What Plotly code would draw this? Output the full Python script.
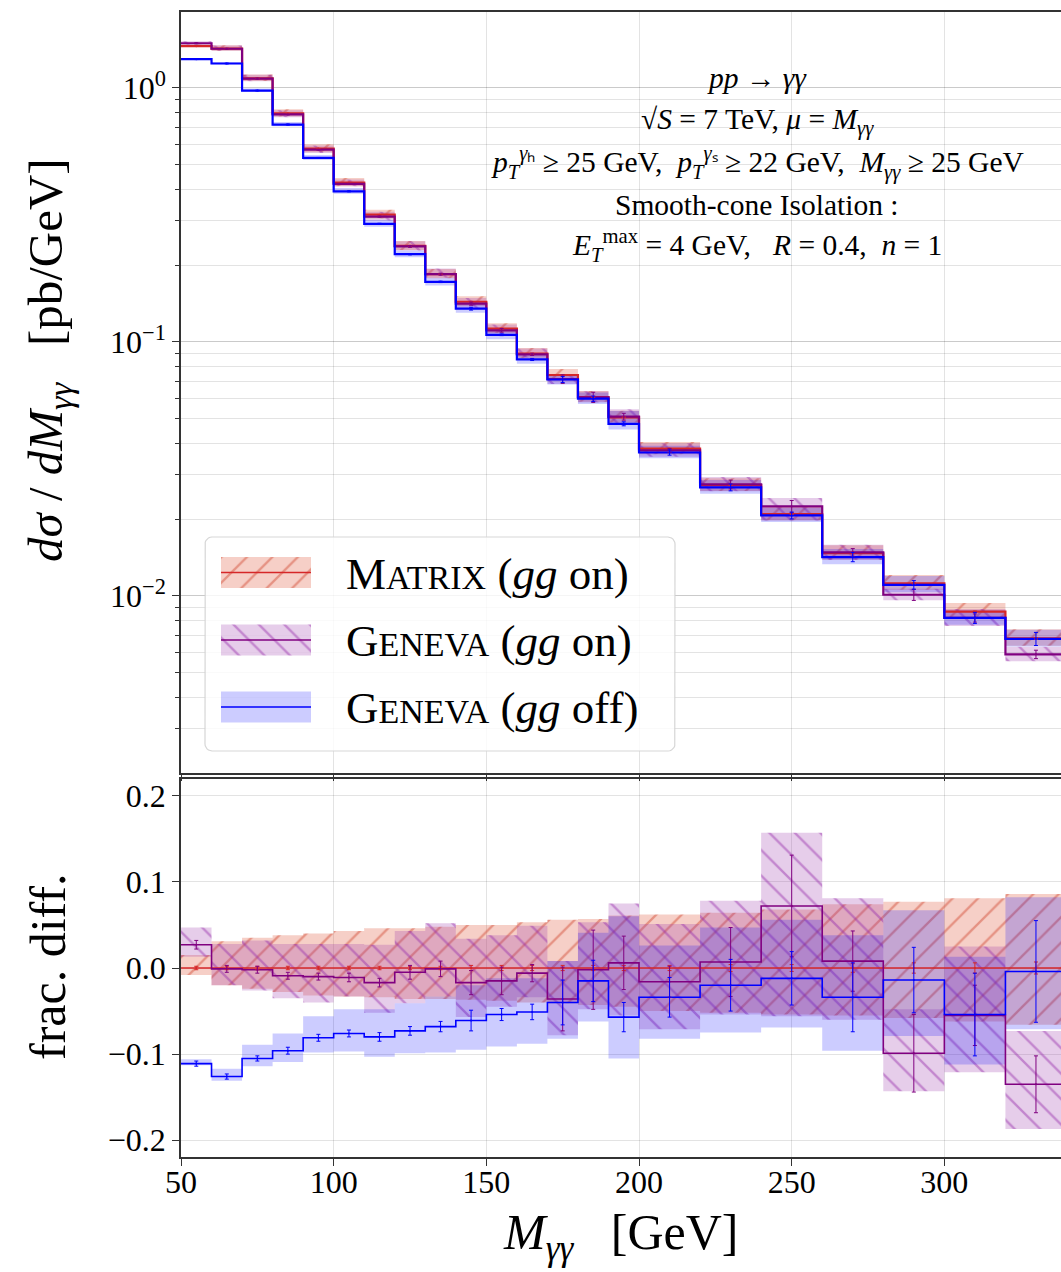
import plotly.graph_objects as go

# ---------------------------------------------------------------- data
# bin edges of the diphoton invariant mass [GeV]
edges = [50, 60, 70, 80, 90, 100, 110, 120, 130, 140, 150, 160, 170, 180, 190,
         200, 220, 240, 260, 280, 300, 320, 340]

# MATRIX (gg on) central prediction, dsigma/dM [pb/GeV]
matrix_xs = [1.46, 1.428, 1.091, 0.794, 0.577, 0.424, 0.317, 0.239, 0.185, 0.144,
             0.1128, 0.0899, 0.0741, 0.0607, 0.0505, 0.0380, 0.0273, 0.0210,
             0.01473, 0.01122, 0.00867, 0.00681]

# fractional differences with respect to MATRIX
geneva_on_diff = [0.027, -0.001, -0.002, -0.009, -0.010, -0.011, -0.017, -0.005,
                  -0.001, -0.017, -0.015, -0.006, -0.036, -0.002, 0.006, -0.016,
                  0.007, 0.072, 0.008, -0.099, -0.055, -0.135]
geneva_off_diff = [-0.111, -0.126, -0.105, -0.096, -0.081, -0.076, -0.080, -0.073,
                   -0.068, -0.061, -0.054, -0.051, -0.040, -0.015, -0.057, -0.034,
                   -0.020, -0.012, -0.034, -0.014, -0.054, -0.004]

# scale-variation bands (fractional, relative to MATRIX central value)
matrix_up = [0.015, 0.031, 0.035, 0.038, 0.040, 0.043, 0.046, 0.046, 0.048, 0.050,
             0.050, 0.053, 0.056, 0.057, 0.061, 0.062, 0.064, 0.068, 0.074, 0.077,
             0.081, 0.086]
matrix_dn = [-0.008, -0.020, -0.024, -0.028, -0.032, -0.033, -0.034, -0.036, -0.036,
             -0.037, -0.038, -0.040, -0.041, -0.043, -0.045, -0.050, -0.052, -0.054,
             -0.055, -0.058, -0.062, -0.066]
geneva_on_up = [0.047, 0.028, 0.032, 0.028, 0.028, 0.028, 0.027, 0.043, 0.052, 0.034,
                0.038, 0.049, 0.008, 0.053, 0.075, 0.051, 0.078, 0.157, 0.081,
                -0.048, 0.025, -0.073]
geneva_on_dn = [0.013, -0.020, -0.026, -0.035, -0.040, -0.033, -0.052, -0.041, -0.033,
                -0.057, -0.045, -0.034, -0.078, -0.048, -0.055, -0.071, -0.054,
                -0.056, -0.060, -0.143, -0.121, -0.187]
geneva_off_up = [-0.106, -0.117, -0.089, -0.076, -0.056, -0.048, -0.048, -0.041,
                 -0.033, -0.020, -0.012, -0.012, 0.008, 0.041, 0.060, 0.026, 0.047,
                 0.056, 0.038, 0.067, 0.013, 0.082]
geneva_off_dn = [-0.113, -0.131, -0.114, -0.109, -0.098, -0.097, -0.103, -0.099,
                 -0.098, -0.095, -0.091, -0.088, -0.082, -0.062, -0.105, -0.082,
                 -0.075, -0.069, -0.096, -0.079, -0.112, -0.071]

# statistical (MC) errors, fractional
matrix_err = [0.002, 0.002, 0.002, 0.002, 0.002, 0.002, 0.002, 0.002, 0.002, 0.003,
              0.003, 0.003, 0.003, 0.003, 0.003, 0.003, 0.004, 0.004, 0.005, 0.006,
              0.006, 0.007]
geneva_on_err = [0.005, 0.004, 0.004, 0.004, 0.004, 0.005, 0.005, 0.008, 0.009, 0.014,
                 0.016, 0.010, 0.037, 0.046, 0.031, 0.018, 0.040, 0.059, 0.035,
                 0.045, 0.035, 0.033]
geneva_off_err = [0.003, 0.003, 0.003, 0.004, 0.004, 0.004, 0.005, 0.005, 0.006, 0.012,
                  0.007, 0.009, 0.026, 0.024, 0.017, 0.023, 0.030, 0.031, 0.040,
                  0.038, 0.048, 0.059]

top_ticks = [1.0, 0.1, 0.01]
top_ticktext = ["10<sup>0</sup>", "10<sup>\u22121</sup>", "10<sup>\u22122</sup>"]
ratio_ticks = [-0.2, -0.1, 0.0, 0.1, 0.2]
mass_ticks = [50, 100, 150, 200, 250, 300]

# ---------------------------------------------------------------- styles
FONT = "Liberation Serif"
RED, PURPLE, BLUE = "#d62728", "#800080", "#0000ff"
styles = {
    "matrix": dict(line=RED, fill="rgba(225,95,70,0.30)",
                   pattern=dict(shape="/", fgcolor="rgba(215,95,75,0.55)",
                                bgcolor="rgba(225,95,70,0.30)", size=18,
                                solidity=0.13, fillmode="replace")),
    "on": dict(line=PURPLE, fill="rgba(150,45,165,0.24)",
               pattern=dict(shape="\\", fgcolor="rgba(150,45,170,0.45)",
                            bgcolor="rgba(150,45,165,0.24)", size=18,
                            solidity=0.13, fillmode="replace")),
    "off": dict(line=BLUE, fill="rgba(0,0,255,0.20)", pattern=None),
}

n = len(matrix_xs)
centers = [0.5 * (edges[i] + edges[i + 1]) for i in range(n)]


def step(vals):
    return list(edges), list(vals) + [vals[-1]]


def band(lo, hi):
    xs, ys = [], []
    for i in range(n):
        xs += [edges[i], edges[i + 1]]
        ys += [hi[i], hi[i]]
    for i in reversed(range(n)):
        xs += [edges[i + 1], edges[i]]
        ys += [lo[i], lo[i]]
    return xs + [xs[0]], ys + [ys[0]]


def scaled(base, frac):
    return [b * (1 + f) for b, f in zip(base, frac)]


fig = go.Figure()

series = [
    ("matrix", [0.0] * n, matrix_up, matrix_dn, matrix_err),
    ("on", geneva_on_diff, geneva_on_up, geneva_on_dn, geneva_on_err),
    ("off", geneva_off_diff, geneva_off_up, geneva_off_dn, geneva_off_err),
]

for panel in ("top", "ratio"):
    xa, ya = ("x", "y") if panel == "top" else ("x2", "y2")
    lw = 2.2 if panel == "top" else 1.6
    # bands
    for key, diff, up, dn, err in series:
        st = styles[key]
        if panel == "top":
            bx, by = band(scaled(matrix_xs, dn), scaled(matrix_xs, up))
        else:
            bx, by = band(dn, up)
        kw = dict(fillpattern=st["pattern"]) if st["pattern"] else {}
        fig.add_trace(go.Scatter(x=bx, y=by, mode="none", fill="toself",
                                 fillcolor=st["fill"], xaxis=xa, yaxis=ya,
                                 hoverinfo="skip", showlegend=False, **kw))
    # central lines
    for key, diff, up, dn, err in series:
        vals = scaled(matrix_xs, diff) if panel == "top" else diff
        sx, sy = step(vals)
        fig.add_trace(go.Scatter(x=sx, y=sy, mode="lines", line_shape="hv",
                                 line=dict(color=styles[key]["line"], width=lw),
                                 xaxis=xa, yaxis=ya, showlegend=False))
    # statistical error bars
    for key, diff, up, dn, err in series:
        if panel == "top":
            vals = scaled(matrix_xs, diff)
            errs = [m * e for m, e in zip(matrix_xs, err)]
        else:
            vals, errs = diff, err
        fig.add_trace(go.Scatter(x=centers, y=vals, mode="markers",
                                 marker=dict(size=2, color=styles[key]["line"]),
                                 error_y=dict(type="data", array=errs, visible=True,
                                              color=styles[key]["line"],
                                              thickness=1, width=2),
                                 xaxis=xa, yaxis=ya, showlegend=False))

# ---------------------------------------------------------------- legend
# drawn on a pixel-aligned overlay frame covering the plotting area
L, R, T, B = 181, 1061, 12, 1157


def rounded_rect(x0, y0, x1, y1, r):
    import math
    pts = []
    corners = [(x1 - r, y0 + r, -90), (x1 - r, y1 - r, 0),
               (x0 + r, y1 - r, 90), (x0 + r, y0 + r, 180)]
    for cx, cy, a0 in corners:
        for k in range(7):
            a = math.radians(a0 + 15 * k)
            pts.append((cx + r * math.cos(a), cy + r * math.sin(a)))
    pts.append(pts[0])
    return [p[0] for p in pts], [p[1] for p in pts]


lx, ly = rounded_rect(205, 537, 675, 751, 7)
fig.add_trace(go.Scatter(x=lx, y=ly, mode="lines", fill="toself",
                         fillcolor="rgba(255,255,255,0.8)",
                         line=dict(color="rgba(210,210,210,0.9)", width=1.2),
                         xaxis="x3", yaxis="y3", hoverinfo="skip",
                         showlegend=False))

SC = "<span style='font-size:34px'>"
legend_rows = [
    ("matrix", 572.5, "M" + SC + "ATRIX</span> (<i>gg</i> on)"),
    ("on", 640.0, "G" + SC + "ENEVA</span> (<i>gg</i> on)"),
    ("off", 707.0, "G" + SC + "ENEVA</span> (<i>gg</i> off)"),
]
annotations = []
for key, cy, label in legend_rows:
    st = styles[key]
    kw = dict(fillpattern=st["pattern"]) if st["pattern"] else {}
    fig.add_trace(go.Scatter(x=[221, 311, 311, 221, 221],
                             y=[cy - 15.5, cy - 15.5, cy + 15.5, cy + 15.5, cy - 15.5],
                             mode="none", fill="toself", fillcolor=st["fill"],
                             xaxis="x3", yaxis="y3", hoverinfo="skip",
                             showlegend=False, **kw))
    fig.add_trace(go.Scatter(x=[221, 311], y=[cy, cy], mode="lines",
                             line=dict(color=st["line"], width=1.6),
                             xaxis="x3", yaxis="y3", hoverinfo="skip",
                             showlegend=False))
    annotations.append(dict(x=344, y=cy + 1, xref="x3", yref="y3", text=label,
                            showarrow=False, xanchor="left", yanchor="middle",
                            font=dict(family=FONT, size=45, color="black")))

# process / cuts description
info_lines = [
    (78, "<i>pp</i> \u2192 <i>\u03b3\u03b3</i>"),
    (121, "\u221a<i>S</i> = 7 TeV, <i>\u03bc</i> = <i>M</i><sub><i>\u03b3\u03b3</i></sub>"),
    (163, "<i>p</i><sub><i>T</i></sub><sup><i>\u03b3</i>\u2095</sup> \u2265 25 GeV,\u00a0\u00a0"
          "<i>p</i><sub><i>T</i></sub><sup><i>\u03b3</i>\u209b</sup> \u2265 22 GeV,\u00a0\u00a0"
          "<i>M</i><sub><i>\u03b3\u03b3</i></sub> \u2265 25 GeV"),
    (205, "Smooth-cone Isolation :"),
    (245, "<i>E</i><sub><i>T</i></sub><sup>max</sup> = 4 GeV,\u00a0\u00a0\u00a0"
          "<i>R</i> = 0.4,\u00a0\u00a0<i>n</i> = 1"),
]
for yy, txt in info_lines:
    annotations.append(dict(x=757, y=yy, xref="x3", yref="y3", text=txt,
                            showarrow=False, xanchor="center", yanchor="middle",
                            font=dict(family=FONT, size=29.5, color="black")))


def paper_x(p):
    return (p - L) / (R - L)


def paper_y(p):
    return (B - p) / (B - T)


annotations += [
    dict(x=paper_x(48), y=paper_y(360), xref="paper", yref="paper", textangle=-90,
         text="<i>d\u03c3</i>\u00a0/\u00a0<i>dM</i><sub><i>\u03b3\u03b3</i></sub>"
              "\u00a0\u00a0\u00a0[pb/GeV]",
         showarrow=False, xanchor="center", yanchor="middle",
         font=dict(family=FONT, size=49, color="black")),
    dict(x=paper_x(48), y=paper_y(967), xref="paper", yref="paper", textangle=-90,
         text="frac. diff.", showarrow=False, xanchor="center", yanchor="middle",
         font=dict(family=FONT, size=50, color="black")),
    dict(x=paper_x(620), y=paper_y(1236), xref="paper", yref="paper",
         text="<i>M</i><sub><i>\u03b3\u03b3</i></sub>\u00a0\u00a0\u00a0[GeV]",
         showarrow=False, xanchor="center", yanchor="middle",
         font=dict(family=FONT, size=50, color="black")),
]

# ---------------------------------------------------------------- axes
GRID = "rgba(0,0,0,0.11)"
AXLINE = "#333333"
tickfont = dict(family=FONT, size=32, color="black")
top_bottom = paper_y(773)
ratio_top = paper_y(779)
xrange = [50, 338.2]

common_x = dict(range=xrange, showgrid=True, gridcolor=GRID, gridwidth=1,
                tickvals=mass_ticks, linecolor=AXLINE, linewidth=1.5, mirror=True,
                ticks="outside", tickcolor=AXLINE, zeroline=False)

fig.update_layout(
    width=1061, height=1272,
    margin=dict(l=L, r=1061 - R, t=T, b=1272 - B),
    paper_bgcolor="white", plot_bgcolor="rgba(0,0,0,0)",
    showlegend=False,
    xaxis=dict(**common_x, anchor="y", ticklen=6, showticklabels=False),
    yaxis=dict(type="log", domain=[top_bottom, 1.0],
               range=[-2.697, 0.299], tickvals=top_ticks, ticktext=top_ticktext,
               tickfont=tickfont, showgrid=True, gridcolor=GRID,
               ticks="outside", ticklen=7, tickcolor=AXLINE,
               minor=dict(dtick="D1", showgrid=True, gridcolor=GRID,
                          ticks="outside", ticklen=4, tickcolor=AXLINE),
               linecolor=AXLINE, linewidth=1.5, mirror=False, zeroline=False),
    xaxis2=dict(**common_x, anchor="y2", ticklen=7, tickfont=tickfont,
                ticklabelstandoff=-11),
    yaxis2=dict(domain=[0.0, ratio_top], range=[-0.2194, 0.2194],
                tickvals=ratio_ticks, tickformat=".1f", tickfont=tickfont,
                showgrid=True, gridcolor=GRID, ticks="outside", ticklen=7,
                tickcolor=AXLINE, linecolor=AXLINE, linewidth=1.5, mirror=False,
                zeroline=False),
    xaxis3=dict(domain=[0, 1], range=[L, R], visible=False, anchor="y3",
                fixedrange=True),
    yaxis3=dict(domain=[0, 1], range=[B, T], visible=False, anchor="x3",
                fixedrange=True),
    annotations=annotations,
)

fig.write_html("out.html")
